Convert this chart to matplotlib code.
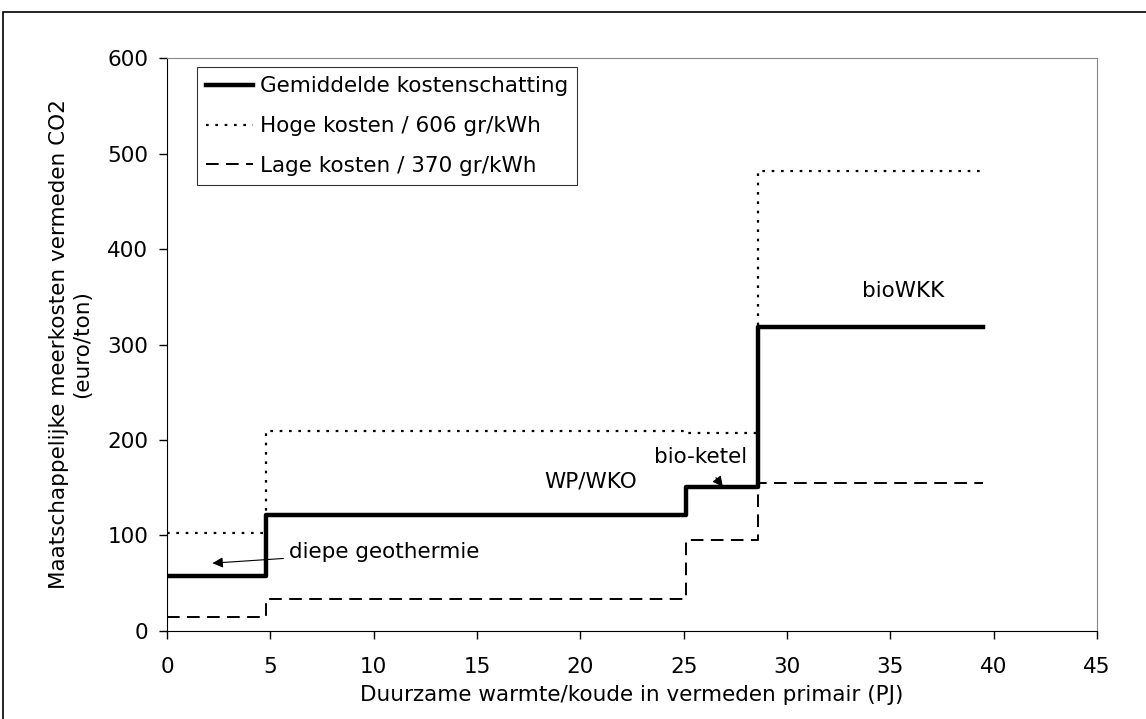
import matplotlib.pyplot as plt
from matplotlib.patches import Rectangle

plt.rcParams['font.family'] = ['DejaVu Sans']

# Grenzen van de stappen (PJ)
x_steps = [0, 4.8, 25.1, 28.6, 39.5]

# euro/ton per segment (laatste waarde herhaald voor steps-post)
gemiddeld = [58, 121, 151, 318, 318]
hoog = [103, 209, 207, 482, 482]
laag = [15, 33, 95, 155, 155]

labels = ['Gemiddelde kostenschatting',
          'Hoge kosten / 606 gr/kWh',
          'Lage kosten / 370 gr/kWh']

xticks = [0, 5, 10, 15, 20, 25, 30, 35, 40, 45]
yticks = [0, 100, 200, 300, 400, 500, 600]

FS = 15.5

fig = plt.figure(figsize=(11.46, 7.19), dpi=100)
ax = fig.add_axes([0.1457, 0.1224, 0.8115, 0.7969])

ax.plot(x_steps, gemiddeld, drawstyle='steps-post', color='black', lw=3.2,
        label=labels[0])
ax.plot(x_steps, hoog, drawstyle='steps-post', color='black', lw=1.6,
        linestyle=(0, (1.2, 3.0)), label=labels[1])
ax.plot(x_steps, laag, drawstyle='steps-post', color='black', lw=1.4,
        linestyle=(0, (6.5, 3.8)), label=labels[2])

ax.set_xlim(0, 45)
ax.set_ylim(0, 600)
ax.set_xticks(xticks)
ax.set_yticks(yticks)
ax.tick_params(direction='out', length=6, width=1, labelsize=FS)
ax.tick_params(axis='x', pad=12.5)
ax.tick_params(axis='y', pad=7.5)

for s in ['top', 'right']:
    ax.spines[s].set_color('#888888')
for s in ['left', 'bottom']:
    ax.spines[s].set_color('black')

ax.set_xlabel('Duurzame warmte/koude in vermeden primair (PJ)', fontsize=FS,
              labelpad=6)
ax.set_ylabel('Maatschappelijke meerkosten vermeden CO2\n(euro/ton)',
              fontsize=FS, labelpad=11)

leg = ax.legend(loc='upper left', bbox_to_anchor=(0.032, 0.984), fontsize=FS,
                frameon=True, fancybox=False, edgecolor='black',
                handlelength=2.2, handletextpad=0.3, borderpad=0.42,
                labelspacing=0.92, borderaxespad=0)
leg.get_frame().set_linewidth(0.8)

ax.annotate('diepe geothermie', xy=(2.2, 71), xytext=(5.9, 83),
            fontsize=FS, va='center', ha='left',
            arrowprops=dict(arrowstyle='-|>', color='black', lw=0.8,
                            shrinkA=2, shrinkB=0))
ax.text(20.5, 157, 'WP/WKO', fontsize=FS, ha='center', va='center')
ax.annotate('bio-ketel', xy=(26.9, 151), xytext=(25.8, 182),
            fontsize=FS, ha='center', va='center',
            arrowprops=dict(arrowstyle='-|>', color='black', lw=0.8,
                            shrinkA=7, shrinkB=0))
ax.text(35.6, 356, 'bioWKK', fontsize=FS, ha='center', va='center')

# kader rond de figuur
fig.patches.append(Rectangle((3 / 1146, -0.1), 1.2, 1.1 - 12 / 719,
                             transform=fig.transFigure, fill=False,
                             edgecolor='black', lw=1.2))

fig.savefig('out.png', dpi=100)
